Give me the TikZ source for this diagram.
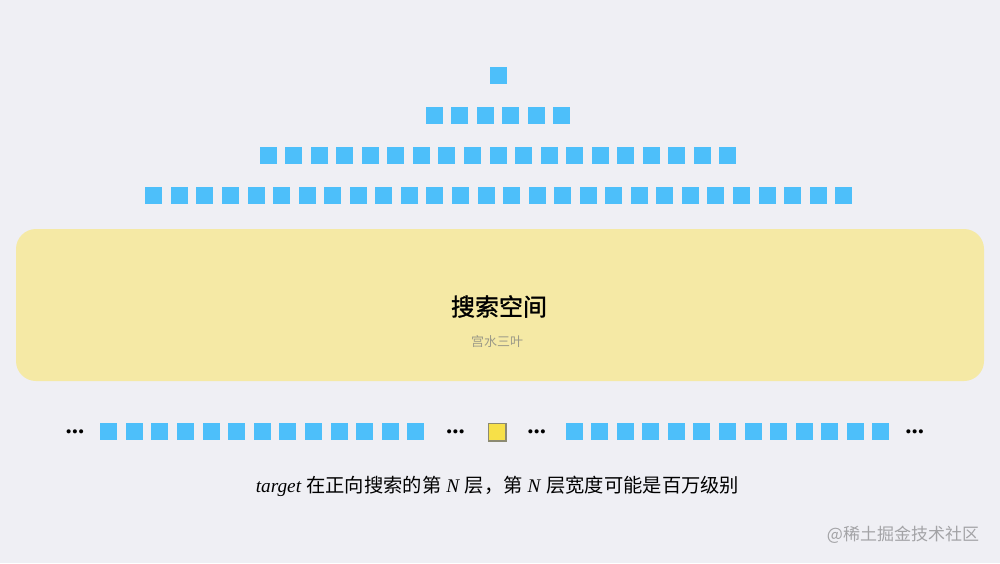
\documentclass[tikz,border=0pt]{standalone}
\usepackage{fontspec}
\setmainfont{Liberation Serif}
\newfontfamily\cjk{Noto Sans CJK SC}
\newfontfamily\cjkb[AutoFakeBold=1.3]{Noto Sans CJK SC}
\definecolor{bg}{HTML}{EFEFF4}
\definecolor{blu}{HTML}{4DBFFA}
\definecolor{yel}{HTML}{F5E9A5}
\definecolor{tgt}{HTML}{F7E048}
\definecolor{tgtb}{HTML}{8C8A72}
\definecolor{sub}{HTML}{9C9A88}
\definecolor{wm}{HTML}{A3A3A6}
\begin{document}
\begin{tikzpicture}[x=1pt,y=-1pt,
  sq/.style={fill=blu, minimum size=17pt, inner sep=0pt, outer sep=0pt},
  dots/.style={inner sep=0pt, font=\fontsize{25}{25}\selectfont\bfseries},
  tgtsq/.style={fill=tgt, draw=tgtb, line width=1.6pt, minimum size=17.5pt, inner sep=0pt}]
\fill[bg] (0,0) rectangle (1000,563);
\useasboundingbox (0,0) rectangle (1000,563);
% pyramid rows
\node[sq] (r1-1) at (498,75.7) {};
\foreach \i in {1,...,6} \node[sq] (r2-\i) at ({498+(\i-3.5)*25.55},115.7) {};
\foreach \i in {1,...,19} \node[sq] (r3-\i) at ({498+(\i-10)*25.55},155.4) {};
\foreach \i in {1,...,28} \node[sq] (r4-\i) at ({498.8+(\i-14.5)*25.55},195.2) {};
% search space box
\node[fill=yel, rounded corners=20pt, minimum width=968pt, minimum height=152pt, inner sep=0pt] (space) at (500,305) {};
\node[inner sep=0pt] (title) at (499,306.5) {\cjkb\bfseries\fontsize{24}{28}\selectfont 搜索空间};
\node[inner sep=0pt, text=sub] (author) at (497,341.5) {\cjk\fontsize{13}{15}\selectfont 宫水三叶};
% bottom row
\node[dots] (d1) at (75,431.5) {...};
\foreach \i in {1,...,13} \node[sq] (bl-\i) at ({108.7+(\i-1)*25.6},431) {};
\node[dots] (d2) at (455.5,431.5) {...};
\node[tgtsq] (target) at (497.2,432.2) {};
\node[dots] (d3) at (536.7,431.5) {...};
\foreach \i in {1,...,13} \node[sq] (br-\i) at ({574.2+(\i-1)*25.55},431) {};
\node[dots] (d4) at (914.7,431.5) {...};
% caption
\node[inner sep=0pt] (caption) at (497.5,486) {\fontsize{19.3}{23}\selectfont \textit{target} {\cjk 在正向搜索的第} \textit{N} {\cjk 层，第} \textit{N} {\cjk 层宽度可能是百万级别}};
% watermark
\node[inner sep=0pt, text=wm] (wmark) at (903,535) {\cjk\fontsize{17}{20}\selectfont @稀土掘金技术社区};
\end{tikzpicture}
\end{document}
